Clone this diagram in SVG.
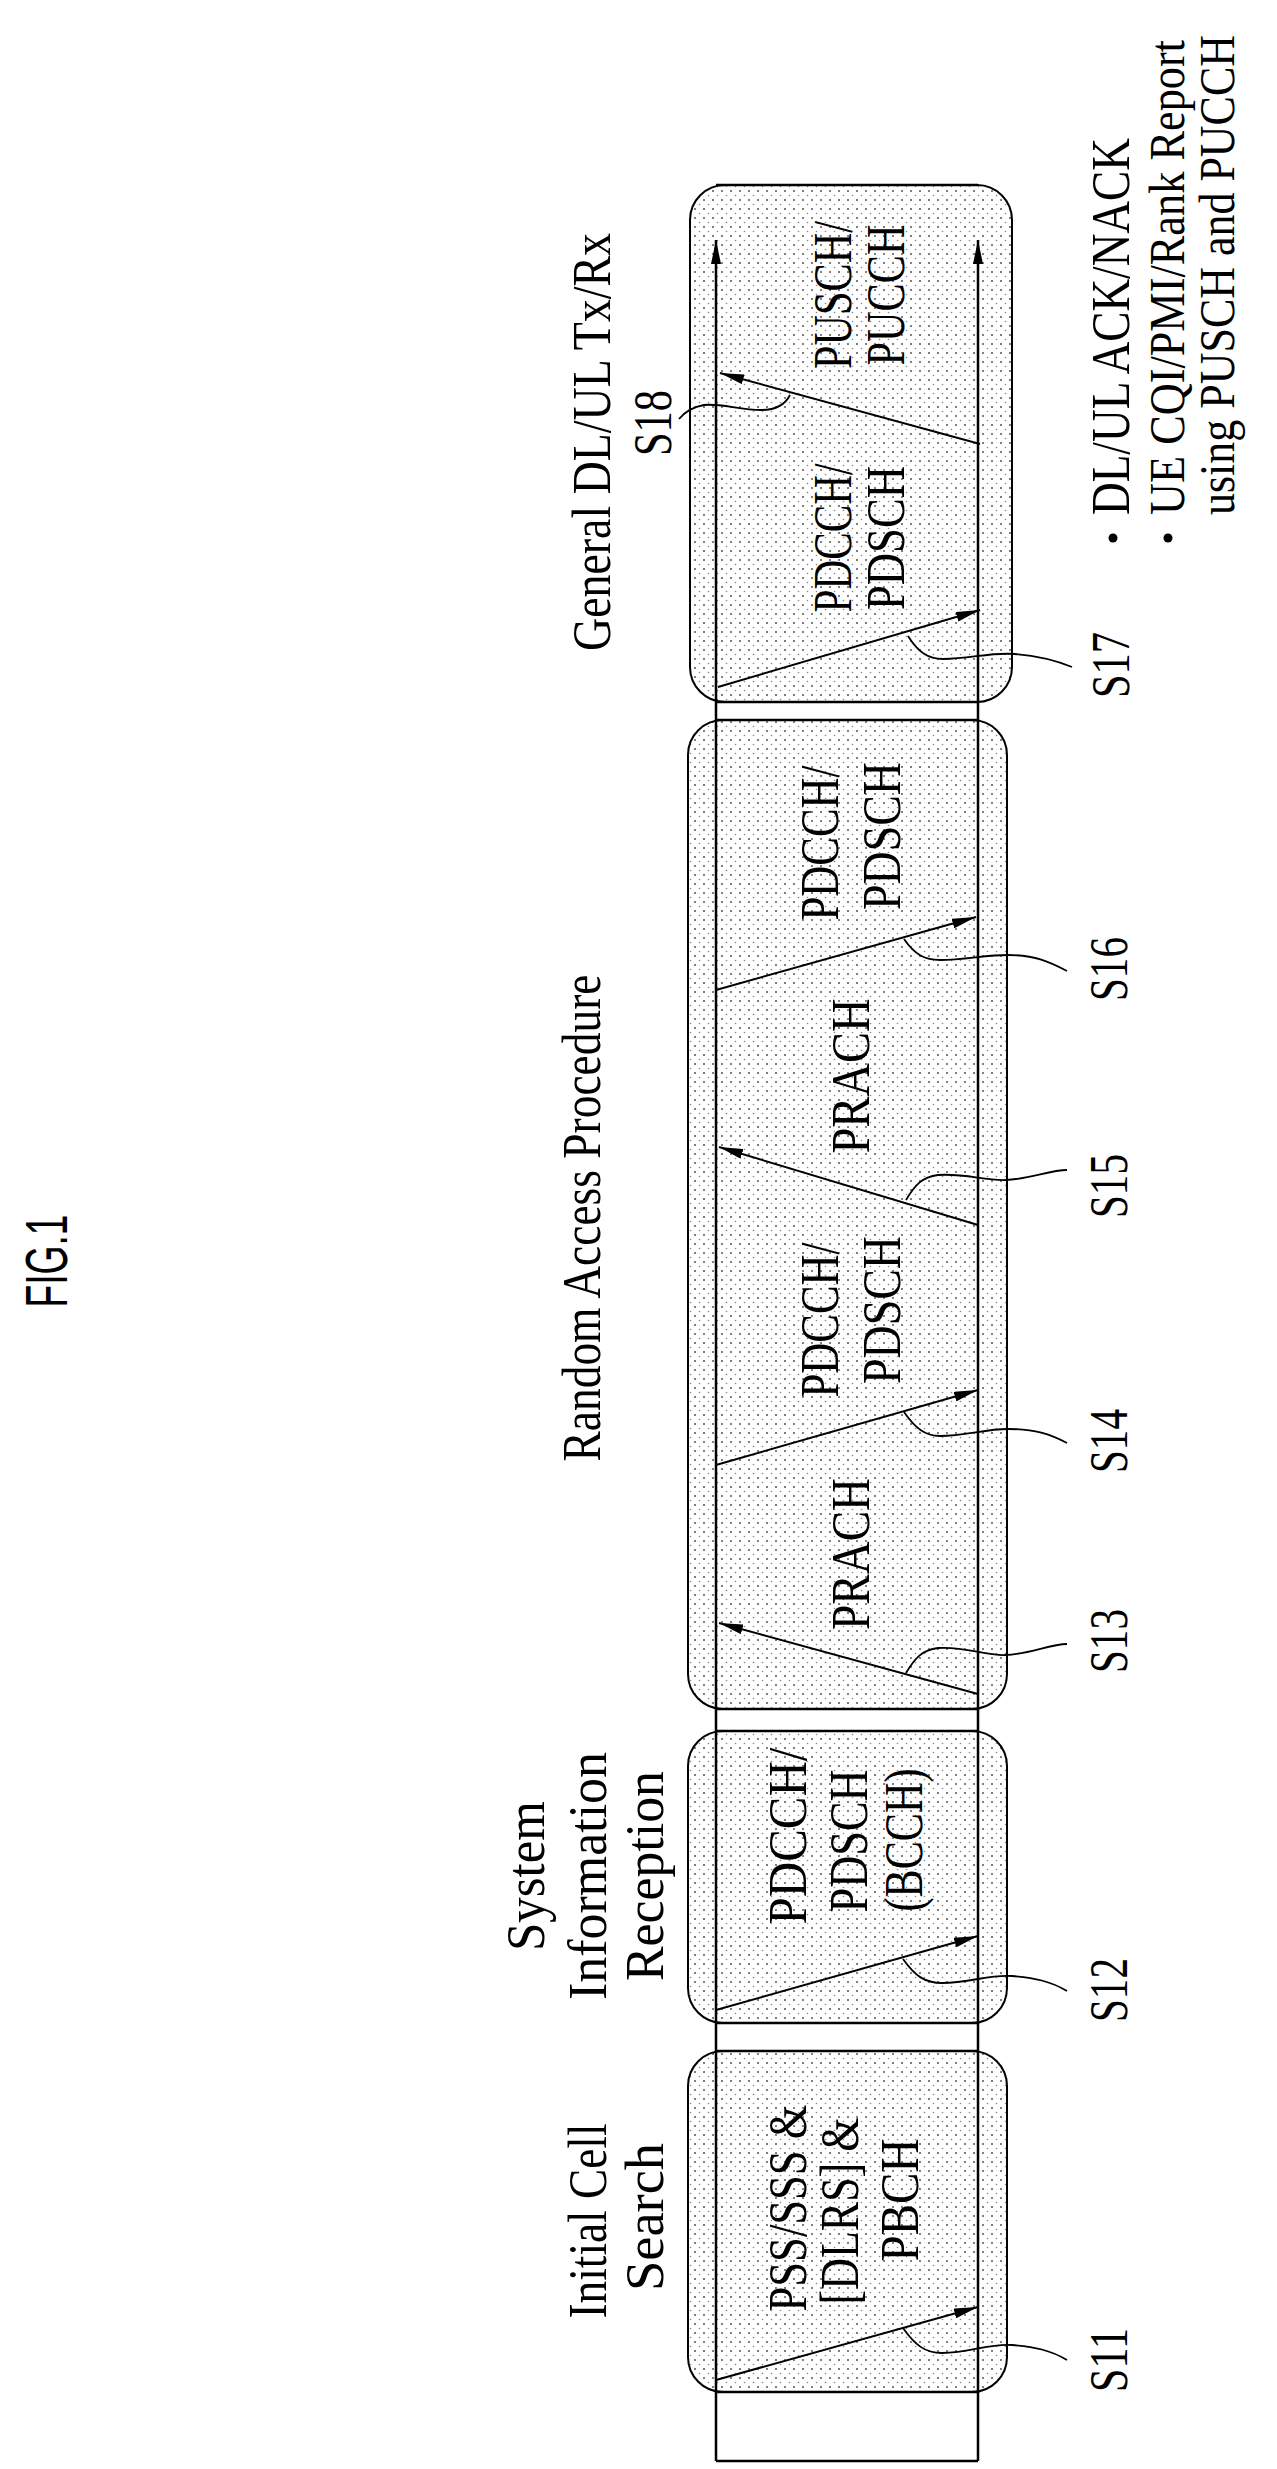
<svg xmlns="http://www.w3.org/2000/svg" width="1277" height="2469" viewBox="0 0 1277 2469">
<style>
.t{font-family:"Liberation Serif","Times New Roman",serif;font-size:54px;fill:#000;text-anchor:middle}
.s{text-anchor:start}
.box{fill:url(#dots);stroke:#000;stroke-width:2}
.ln{stroke:#000;stroke-width:2.5;fill:none}
.ar{stroke:#000;stroke-width:2;fill:none;marker-end:url(#ah)}
.ld{stroke:#000;stroke-width:1.8;fill:none}
</style>
<defs>
<pattern id="dots" width="9" height="9" patternUnits="userSpaceOnUse">
<rect width="9" height="9" fill="#fff"/>
<circle cx="2" cy="2" r="1" fill="#555"/>
<circle cx="6.5" cy="6.5" r="0.8" fill="#888"/>
</pattern>
<marker id="ah" viewBox="0 0 24 10" refX="24" refY="5" markerWidth="24" markerHeight="10" markerUnits="userSpaceOnUse" orient="auto">
<path d="M0,0 L24,5 L0,10 Z" fill="#000"/>
</marker>
</defs>
<rect width="1277" height="2469" fill="#fff"/>
<text transform="translate(67,1261) rotate(-90)" style="font-family:'Liberation Sans',Arial,sans-serif;font-size:60px;text-anchor:middle" textLength="93" lengthAdjust="spacingAndGlyphs">FIG.1</text>

<g id="n1">
<rect class="box" x="688" y="2051" width="319" height="341" rx="35"/>
<text class="t" transform="translate(606,2221) rotate(-90)" textLength="195" lengthAdjust="spacingAndGlyphs">Initial Cell</text>
<text class="t" transform="translate(663,2217) rotate(-90)" textLength="148" lengthAdjust="spacingAndGlyphs">Search</text>
<text class="t" transform="translate(806,2208) rotate(-90)" textLength="207" lengthAdjust="spacingAndGlyphs">PSS/SSS &amp;</text>
<text class="t" transform="translate(858,2211) rotate(-90)" textLength="187" lengthAdjust="spacingAndGlyphs">[DLRS] &amp;</text>
<text class="t" transform="translate(918,2200) rotate(-90)" textLength="123" lengthAdjust="spacingAndGlyphs">PBCH</text>
</g>
<g id="n2">
<rect class="box" x="688" y="1731" width="319" height="292" rx="35"/>
<text class="t" transform="translate(544,1876) rotate(-90)" textLength="150" lengthAdjust="spacingAndGlyphs">System</text>
<text class="t" transform="translate(606,1876) rotate(-90)" textLength="248" lengthAdjust="spacingAndGlyphs">Information</text>
<text class="t" transform="translate(663,1876) rotate(-90)" textLength="210" lengthAdjust="spacingAndGlyphs">Reception</text>
<text class="t" transform="translate(806,1836) rotate(-90)" textLength="177" lengthAdjust="spacingAndGlyphs">PDCCH/</text>
<text class="t" transform="translate(867,1841) rotate(-90)" textLength="143" lengthAdjust="spacingAndGlyphs">PDSCH</text>
<text class="t" transform="translate(922,1840) rotate(-90)" textLength="143" lengthAdjust="spacingAndGlyphs">(BCCH)</text>
</g>
<g id="n3">
<rect class="box" x="688" y="720" width="319" height="989" rx="35"/>
<text class="t" transform="translate(600,1218) rotate(-90)" textLength="487" lengthAdjust="spacingAndGlyphs">Random Access Procedure</text>
<text class="t" transform="translate(869,1554) rotate(-90)" textLength="152" lengthAdjust="spacingAndGlyphs">PRACH</text>
<text class="t" transform="translate(838,1320) rotate(-90)" textLength="155" lengthAdjust="spacingAndGlyphs">PDCCH/</text>
<text class="t" transform="translate(900,1310) rotate(-90)" textLength="148" lengthAdjust="spacingAndGlyphs">PDSCH</text>
<text class="t" transform="translate(869,1076) rotate(-90)" textLength="155" lengthAdjust="spacingAndGlyphs">PRACH</text>
<text class="t" transform="translate(838,843) rotate(-90)" textLength="155" lengthAdjust="spacingAndGlyphs">PDCCH/</text>
<text class="t" transform="translate(900,836) rotate(-90)" textLength="148" lengthAdjust="spacingAndGlyphs">PDSCH</text>
</g>
<g id="n4">
<rect class="box" x="690" y="185" width="322" height="517" rx="35"/>
<text class="t" transform="translate(610,442) rotate(-90)" textLength="418" lengthAdjust="spacingAndGlyphs">General DL/UL Tx/Rx</text>
<text class="t" transform="translate(851,538) rotate(-90)" textLength="149" lengthAdjust="spacingAndGlyphs">PDCCH/</text>
<text class="t" transform="translate(904,538) rotate(-90)" textLength="144" lengthAdjust="spacingAndGlyphs">PDSCH</text>
<text class="t" transform="translate(851,295) rotate(-90)" textLength="148" lengthAdjust="spacingAndGlyphs">PUSCH/</text>
<text class="t" transform="translate(904,295) rotate(-90)" textLength="141" lengthAdjust="spacingAndGlyphs">PUCCH</text>
</g>
<g id="notes">
<circle cx="1113" cy="538" r="4.5"/>
<circle cx="1168" cy="538" r="4.5"/>
<text class="t s" transform="translate(1129,515) rotate(-90)" textLength="377" lengthAdjust="spacingAndGlyphs">DL/UL ACK/NACK</text>
<text class="t s" transform="translate(1184,515) rotate(-90)" style="font-size:50px" textLength="475" lengthAdjust="spacingAndGlyphs">UE CQI/PMI/Rank Report</text>
<text class="t s" transform="translate(1234,515) rotate(-90)" style="font-size:50px" textLength="480" lengthAdjust="spacingAndGlyphs">using PUSCH and PUCCH</text>
</g>
<g id="labels">
<text class="t" transform="translate(1127,2360) rotate(-90)" textLength="64" lengthAdjust="spacingAndGlyphs">S11</text>
<text class="t" transform="translate(1127,1990) rotate(-90)" textLength="64" lengthAdjust="spacingAndGlyphs">S12</text>
<text class="t" transform="translate(1127,1641) rotate(-90)" textLength="64" lengthAdjust="spacingAndGlyphs">S13</text>
<text class="t" transform="translate(1127,1441) rotate(-90)" textLength="64" lengthAdjust="spacingAndGlyphs">S14</text>
<text class="t" transform="translate(1127,1186) rotate(-90)" textLength="64" lengthAdjust="spacingAndGlyphs">S15</text>
<text class="t" transform="translate(1127,969) rotate(-90)" textLength="64" lengthAdjust="spacingAndGlyphs">S16</text>
<text class="t" transform="translate(1129,665) rotate(-90)" textLength="66" lengthAdjust="spacingAndGlyphs">S17</text>
<text class="t" transform="translate(671,423) rotate(-90)" textLength="66" lengthAdjust="spacingAndGlyphs">S18</text>
</g>
<g id="connectors">
<line class="ln" x1="716" y1="2461" x2="716" y2="240" style="marker-end:url(#ah)"/>
<line class="ln" x1="978" y1="2461" x2="978" y2="240" style="marker-end:url(#ah)"/>
<path class="ln" d="M716,2461 H978 M716,2392 H978 M716,2051 H978 M716,2023 H978 M716,1731 H978 M716,1709 H978 M716,720 H978 M716,702 H978 M716,185 H978"/>
<line class="ar" x1="716" y1="2380" x2="978" y2="2307"/>
<line class="ar" x1="716" y1="2010" x2="978" y2="1936"/>
<line class="ar" x1="978" y1="1694" x2="719" y2="1623"/>
<line class="ar" x1="716" y1="1465" x2="978" y2="1390"/>
<line class="ar" x1="978" y1="1225" x2="719" y2="1147"/>
<line class="ar" x1="716" y1="990" x2="976" y2="917"/>
<line class="ar" x1="718" y1="687" x2="980" y2="610"/>
<line class="ar" x1="980" y1="444" x2="720" y2="373"/>
<path class="ld" d="M903,2328 C915,2345 925,2353 942,2353 C970,2353 990,2343 1012,2345 C1035,2347 1050,2350 1067,2360"/>
<path class="ld" d="M903,1959 C915,1976 925,1983 942,1983 C970,1983 990,1974 1012,1976 C1035,1978 1050,1981 1067,1991"/>
<path class="ld" d="M906,1673 C915,1658 922,1650 938,1648 C965,1646 985,1656 1006,1655 C1030,1654 1050,1644 1067,1644"/>
<path class="ld" d="M904,1412 C915,1428 925,1436 940,1436 C965,1436 985,1429 1008,1429 C1035,1429 1050,1434 1067,1443"/>
<path class="ld" d="M906,1200 C915,1185 922,1177 938,1175 C965,1173 985,1181 1006,1180 C1030,1179 1050,1170 1067,1170"/>
<path class="ld" d="M904,939 C915,955 925,960 940,960 C965,960 985,955 1008,955 C1035,955 1050,962 1067,971"/>
<path class="ld" d="M908,636 C918,652 928,659 943,659 C970,659 990,652 1015,654 C1040,656 1055,660 1072,667"/>
<path class="ld" d="M790,395 C785,405 775,410 761,410 C740,410 720,403 704,405 C692,407 684,413 679,419"/>
</g>
</svg>
